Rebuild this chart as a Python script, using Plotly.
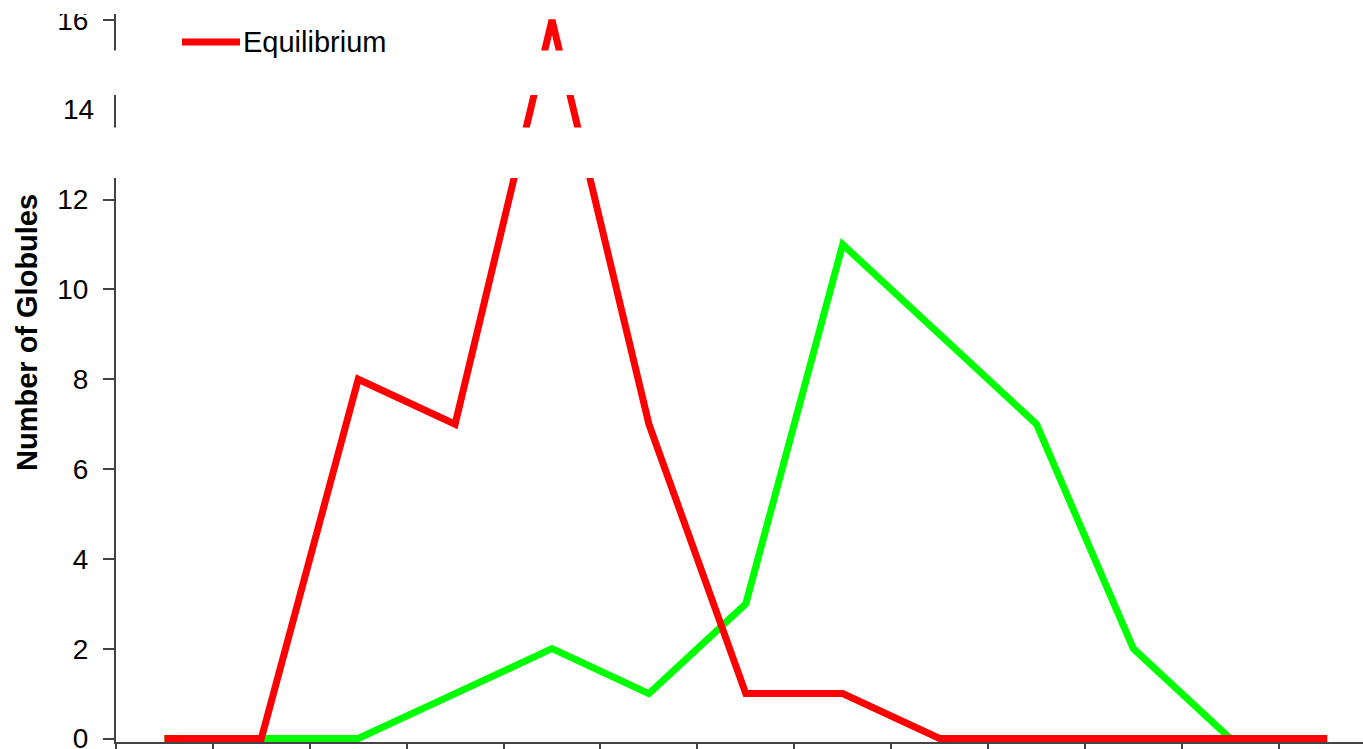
import plotly.graph_objects as go

# Size classes (13 bins along the x axis, unlabelled)
bins = list(range(13))
equilibrium = [0, 0, 8, 7, 16, 7, 1, 1, 0, 0, 0, 0, 0]
second_series = [0, 0, 0, 1, 2, 1, 3, 11, 9, 7, 2, 0, 0]

y_ticks = [0, 2, 4, 6, 8, 10, 12, 16]

W, H = 1363, 749
ML, MR, MT, MB = 116, 0, 0, 7
plot_w = W - ML - MR
plot_h = H - MT - MB

AXIS_COLOR = "#444444"
FONT = "Liberation Sans, Arial, sans-serif"

# vertical scale: value 0 sits just above the bottom axis line
ZERO_PX = 738.5
UNIT_PX = (ZERO_PX - 20) / 16.0


def px_x(x):
    return (x - ML) / plot_w


def px_y(y):
    return (plot_h - y) / plot_h


fig = go.Figure()

fig.add_trace(go.Scatter(
    x=bins, y=second_series, mode="lines",
    line=dict(color="#00FF00", width=7),
    showlegend=False, hoverinfo="skip",
))
fig.add_trace(go.Scatter(
    x=bins, y=equilibrium, mode="lines", name="Equilibrium",
    line=dict(color="#FF0000", width=7),
    showlegend=False, hoverinfo="skip",
))

shapes = []
# white horizontal bands across the top of the chart
for y0, y1, x0 in [(0, 14, 0), (58, 95, 100), (135, 178, 100)]:
    shapes.append(dict(
        type="rect", xref="paper", yref="paper",
        x0=px_x(x0), x1=1.01, y0=px_y(y1), y1=px_y(y0) + 0.01,
        fillcolor="white", line=dict(width=0), layer="above",
    ))
# legend sample line
shapes.append(dict(
    type="line", xref="paper", yref="paper",
    x0=px_x(182), x1=px_x(240), y0=px_y(42), y1=px_y(42),
    line=dict(color="#FF0000", width=7), layer="above",
))

annotations = [
    dict(text="Equilibrium", xref="paper", yref="paper",
         x=px_x(241), y=px_y(42), xanchor="left", yanchor="middle",
         showarrow=False, font=dict(family=FONT, size=29, color="black")),
    dict(text="14", xref="paper", yref="y",
         x=px_x(96), y=14, xanchor="right", yanchor="middle",
         showarrow=False, font=dict(family=FONT, size=28, color="black")),
    # y-axis title
    dict(text="<b>Number of Globules</b>", xref="paper", yref="paper",
         x=px_x(27), y=px_y(333), xanchor="center", yanchor="middle",
         textangle=-90, showarrow=False,
         font=dict(family=FONT, size=29, color="black")),
]

fig.update_layout(
    width=W, height=H,
    margin=dict(l=ML, r=MR, t=MT, b=MB, pad=0, autoexpand=False),
    paper_bgcolor="white", plot_bgcolor="white",
    shapes=shapes, annotations=annotations,
    showlegend=False,
    xaxis=dict(
        range=[-0.5, 12.37],
        tickmode="array", tickvals=[i + 0.5 for i in range(-1, 12)],
        showticklabels=False, automargin=False,
        ticks="outside", ticklen=12, tickwidth=2, tickcolor=AXIS_COLOR,
        showline=True, linecolor=AXIS_COLOR, linewidth=2,
        showgrid=False, zeroline=False,
    ),
    yaxis=dict(
        range=[-(plot_h - ZERO_PX) / UNIT_PX, ZERO_PX / UNIT_PX],
        tickmode="array", tickvals=y_ticks,
        ticktext=[str(v) for v in y_ticks],
        ticks="outside", ticklen=11, tickwidth=2, tickcolor=AXIS_COLOR,
        ticklabelstandoff=9, ticklabeloverflow="allow", automargin=False,
        showline=True, linecolor=AXIS_COLOR, linewidth=2,
        showgrid=False, zeroline=False,
        tickfont=dict(family=FONT, size=28, color="black"),
    ),
)

fig.write_html("out.html")
